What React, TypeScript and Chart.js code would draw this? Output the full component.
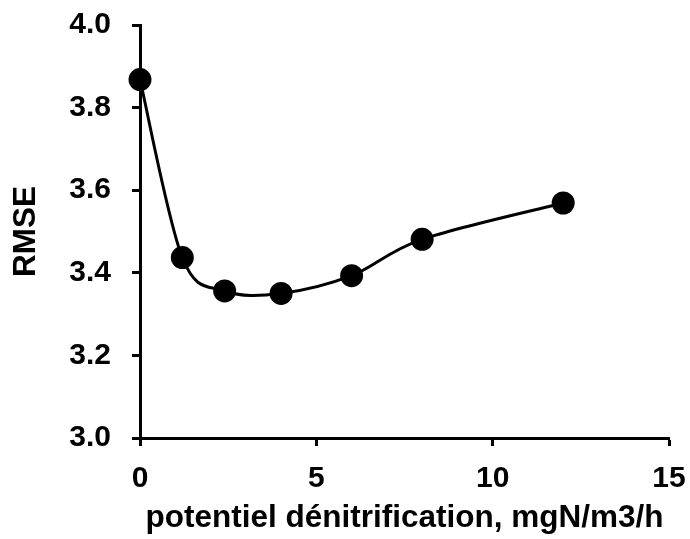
import React, { useEffect, useRef } from "react";
import { Chart, registerables } from "chart.js";

Chart.register(...registerables);

const xValues = [0, 1.2, 2.4, 4, 6, 8, 12];
const rmseValues = [3.868, 3.437, 3.356, 3.35, 3.393, 3.481, 3.569];
const xTitle = "potentiel dénitrification, mgN/m3/h";
const yTitle = "RMSE";

// Excel-like smoothing (Catmull-Rom, 1/6 factor) applied to the library's pixel points
const excelSmooth = {
  id: "excelSmooth",
  beforeDatasetsDraw(chart: any) {
    const meta = chart.getDatasetMeta(0);
    const line = meta.dataset;
    if (line && typeof line.updateControlPoints === "function") {
      line.updateControlPoints(chart.chartArea);
    }
    const pts = meta.data as any[];
    const n = pts.length;
    for (let i = 0; i < n; i++) {
      const prev = pts[Math.max(0, i - 1)];
      const next = pts[Math.min(n - 1, i + 1)];
      const dx = (next.x - prev.x) / 6;
      const dy = (next.y - prev.y) / 6;
      pts[i].cp1x = pts[i].x - dx;
      pts[i].cp1y = pts[i].y - dy;
      pts[i].cp2x = pts[i].x + dx;
      pts[i].cp2y = pts[i].y + dy;
    }
  },
};

export default function App() {
  const ref = useRef<HTMLCanvasElement | null>(null);
  useEffect(() => {
    if (!ref.current) return;
    const font = { family: "'Liberation Sans', Arial, sans-serif", weight: "bold" as const, size: 30 };
    const chart = new Chart(ref.current, {
      type: "scatter",
      data: {
        datasets: [
          {
            data: xValues.map((x, i) => ({ x, y: rmseValues[i] })),
            showLine: true,
            borderColor: "#000",
            backgroundColor: "#000",
            borderWidth: 3,
            pointRadius: 10,
            pointBackgroundColor: "#000",
            pointBorderColor: "#000",
            tension: 0.4,
            clip: false as any,
          },
        ],
      },
      options: {
        animation: false,
        responsive: false,
        layout: { padding: { top: 25, right: 21, left: 0, bottom: 0 } },
        plugins: { legend: { display: false }, tooltip: { enabled: false } },
        scales: {
          x: {
            type: "linear",
            min: 0,
            max: 15,
            afterFit: (s: any) => {
              s.height = 101;
              s.paddingLeft = 0;
              s.paddingRight = 0;
            },
            ticks: { stepSize: 5, color: "#000", font, padding: 15, maxRotation: 0 },
            grid: { drawOnChartArea: false, drawTicks: true, tickLength: 8, tickWidth: 3, tickColor: "#000", color: "#000" },
            border: { color: "#000", width: 3 },
            title: { display: true, text: xTitle, color: "#000", font: { ...font, size: 31.5 }, padding: { top: 0, bottom: 2 } },
          },
          y: {
            type: "linear",
            min: 3,
            max: 4,
            afterFit: (s: any) => {
              s.width = 140;
              s.paddingTop = 0;
              s.paddingBottom = 0;
            },
            ticks: { stepSize: 0.2, color: "#000", font, padding: 21, callback: (v: any) => Number(v).toFixed(1) },
            grid: { drawOnChartArea: false, drawTicks: true, tickLength: 8, tickWidth: 3, tickColor: "#000", color: "#000" },
            border: { color: "#000", width: 3 },
            title: { display: true, text: yTitle, color: "#000", font: { ...font, size: 31.5 }, padding: { top: 7, bottom: 0 } },
          },
        },
      },
      plugins: [excelSmooth],
    });
    return () => chart.destroy();
  }, []);
  return (
    <div style={{ position: "fixed", left: 0, top: 0, width: 690, height: 539, background: "#fff" }}>
      <canvas ref={ref} width={690} height={539} style={{ width: 690, height: 539 }} />
    </div>
  );
}
